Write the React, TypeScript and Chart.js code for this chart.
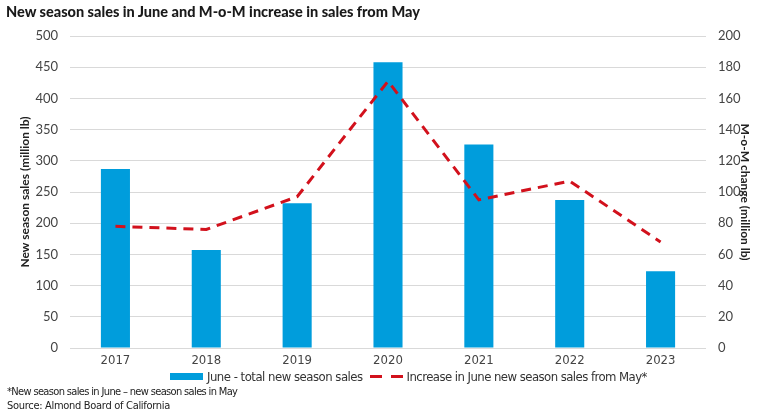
import React, { useEffect, useRef } from "react";
import { Chart, registerables } from "chart.js";

Chart.register(...registerables);

const years = ["2017", "2018", "2019", "2020", "2021", "2022", "2023"];
const juneSales = [287, 157, 232, 458, 326, 237, 123];
const momIncrease = [78, 76, 97, 171, 95, 107, 68];
const leftTicks = { min: 0, max: 500, step: 50 };
const rightTicks = { min: 0, max: 200, step: 20 };

const barLabel = "June - total new season sales";
const lineLabel = "Increase in June new season sales from May*";
const titleText = "New season sales in June and M-o-M increase in sales from May";
const footnote1 = "*New season sales in June \u2013 new season sales in May";
const footnote2 = "Source: Almond Board of California";

const BLUE = "#009ddc";
const RED = "#d2111c";
const TICK = "#444444";
const CONDENSED = "'Liberation Sans Narrow', 'DejaVu Sans Condensed', sans-serif";
const SANS = "Lato, 'Noto Sans', sans-serif";

export default function App() {
  const ref = useRef<HTMLCanvasElement | null>(null);

  useEffect(() => {
    document.body.style.margin = "0";
    const ctx = ref.current!.getContext("2d")!;
    const chart = new Chart(ctx, {
      type: "bar",
      data: {
        labels: years,
        datasets: [
          {
            type: "line",
            label: lineLabel,
            data: momIncrease,
            yAxisID: "y1",
            borderColor: RED,
            backgroundColor: RED,
            borderWidth: 3,
            borderDash: [10, 7],
            pointRadius: 0,
            tension: 0,
            order: 0,
          } as any,
          {
            type: "bar",
            label: barLabel,
            data: juneSales,
            yAxisID: "y",
            backgroundColor: BLUE,
            categoryPercentage: 0.8,
            barPercentage: 0.4,
            order: 1,
          },
        ],
      },
      options: {
        animation: false,
        responsive: false,
        maintainAspectRatio: false,
        layout: { padding: { top: 36, bottom: 45, left: 0, right: 0 } },
        plugins: {
          legend: { display: false },
          tooltip: { enabled: false },
          title: { display: false },
        },
        scales: {
          x: {
            grid: { display: false, drawTicks: false },
            border: { display: false },
            ticks: { color: TICK, font: { family: CONDENSED, size: 13 }, padding: 5 },
            afterFit: (s: any) => {
              s.height = 22;
            },
          },
          y: {
            position: "left",
            min: leftTicks.min,
            max: leftTicks.max,
            ticks: {
              stepSize: leftTicks.step,
              color: TICK,
              font: { family: SANS, size: 13 },
              padding: 12,
            },
            grid: { color: "#d9d9d9", drawTicks: false, lineWidth: 1 },
            border: { display: false },
            title: {
              display: true,
              text: "New season sales (million lb)",
              color: "#222",
              font: { family: SANS, size: 12, weight: "bold" },
              padding: { top: 18, bottom: 0 },
            },
            afterFit: (s: any) => {
              s.width = 70;
            },
          },
          y1: {
            position: "right",
            min: rightTicks.min,
            max: rightTicks.max,
            ticks: {
              stepSize: rightTicks.step,
              color: TICK,
              font: { family: SANS, size: 13 },
              padding: 12,
            },
            grid: { display: false, drawTicks: false },
            border: { display: false },
            title: {
              display: true,
              text: "M-o-M change (million lb)",
              color: "#222",
              font: { family: SANS, size: 12, weight: "bold" },
              padding: { top: 11, bottom: 0 },
            },
            afterFit: (s: any) => {
              s.width = 57;
            },
          },
        },
      },
    });
    return () => chart.destroy();
  }, []);

  return (
    <div style={{ position: "fixed", left: 0, top: 0, width: 763, height: 415, background: "#fff" }}>
      <canvas ref={ref} width={763} height={415} style={{ position: "absolute", left: 0, top: 0 }} />
      <div
        style={{
          position: "absolute",
          left: 6,
          top: 3,
          fontFamily: SANS,
          fontWeight: 900,
          fontSize: 14.5,
          color: "#1a1a1a",
          whiteSpace: "nowrap",
        }}
      >
        {titleText}
      </div>
      <div
        style={{
          position: "absolute",
          left: 170,
          top: 369,
          display: "flex",
          alignItems: "center",
          fontFamily: CONDENSED,
          fontSize: 13,
          color: "#333",
          whiteSpace: "nowrap",
        }}
      >
        <span style={{ display: "inline-block", width: 33, height: 7, background: BLUE, marginRight: 4 }} />
        <span style={{ letterSpacing: "-0.5px" }}>{barLabel}</span>
        <span style={{ display: "inline-block", width: 12, height: 3, background: RED, marginLeft: 7 }} />
        <span style={{ display: "inline-block", width: 12, height: 3, background: RED, marginLeft: 9, marginRight: 4 }} />
        <span style={{ letterSpacing: "-0.55px" }}>{lineLabel}</span>
      </div>
      <div
        style={{
          position: "absolute",
          left: 7,
          top: 385,
          fontFamily: CONDENSED,
          fontSize: 11,
          lineHeight: "14px",
          color: "#222",
          whiteSpace: "nowrap",
        }}
      >
        <div style={{ letterSpacing: "-0.65px" }}>{footnote1}</div>
        <div style={{ letterSpacing: "-0.3px" }}>{footnote2}</div>
      </div>
    </div>
  );
}
